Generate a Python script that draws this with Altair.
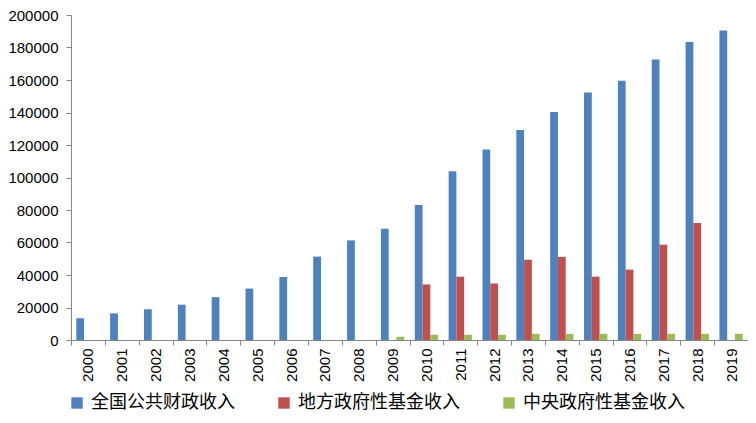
import altair as alt
import pandas as pd

years = [str(y) for y in range(2000, 2020)]
series_names = ["全国公共财政收入", "地方政府性基金收入", "中央政府性基金收入"]
national = [13395, 16386, 18904, 21715, 26396, 31649, 38760, 51322, 61330, 68518,
            83102, 103874, 117254, 129210, 140370, 152269, 159605, 172593, 183360, 190390]
local_fund = [None, None, None, None, None, None, None, None, None, None,
              34200, 39000, 34800, 49400, 51200, 39000, 43300, 58600, 72000, None]
central_fund = [None, None, None, None, None, None, None, None, None, 2000,
                3200, 3200, 3200, 3800, 3800, 3800, 3800, 3800, 3800, 3800]
colors = ["#4F81BD", "#C0504D", "#9BBB59"]

rows = []
for name, vals in zip(series_names, [national, local_fund, central_fund]):
    for y, v in zip(years, vals):
        if v is not None:
            rows.append({"year": y, "series": name, "value": v})
df = pd.DataFrame(rows)

chart = alt.Chart(df).mark_bar().encode(
    x=alt.X("year:N", sort=years,
            scale=alt.Scale(paddingInner=0, paddingOuter=0),
            axis=alt.Axis(title=None, labelAngle=-90, tickBand="extent",
                          labelFont="Liberation Sans", labelFontSize=15,
                          labelColor="#000000", domainColor="#868686",
                          tickColor="#868686", tickSize=5, labelPadding=3,
                          labelAlign="right", labelBaseline="middle")),
    xOffset=alt.XOffset("series:N", sort=series_names,
                        scale=alt.Scale(paddingInner=0, paddingOuter=0.68)),
    y=alt.Y("value:Q",
            scale=alt.Scale(domain=[0, 200000], nice=False),
            axis=alt.Axis(title=None, values=list(range(0, 200001, 20000)),
                          format="d", grid=False,
                          labelFont="Liberation Sans", labelFontSize=15,
                          labelColor="#000000", domainColor="#868686",
                          tickColor="#868686", tickSize=5, labelPadding=8)),
    color=alt.Color("series:N", sort=series_names,
                    scale=alt.Scale(domain=series_names, range=colors),
                    legend=alt.Legend(title=None, orient="none", direction="horizontal",
                                      legendX=-3, legendY=379,
                                      symbolType="square", symbolSize=130,
                                      symbolStrokeWidth=0,
                                      labelFont="Noto Sans CJK SC", labelFontSize=18,
                                      labelColor="#000000", labelOffset=5,
                                      columnPadding=40, labelLimit=400)),
).properties(
    width=677, height=325,
    autosize=alt.AutoSizeParams(type="none"),
    padding={"left": 63, "top": 7, "right": 0, "bottom": 75},
).configure_view(stroke=None)

chart.save("out.html", embed_options={"renderer": "svg", "actions": False})
